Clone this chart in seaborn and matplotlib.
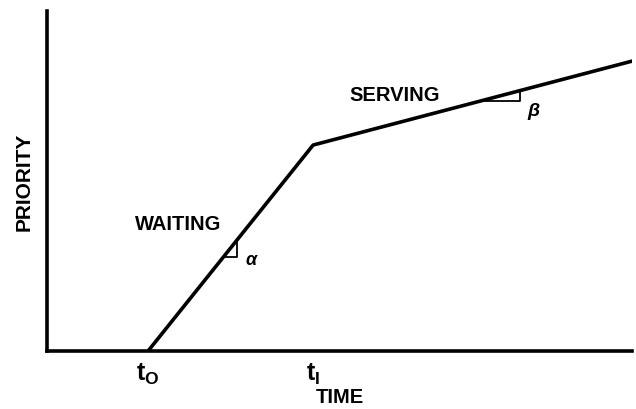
import numpy as np
import pandas as pd
import seaborn as sns
import matplotlib.pyplot as plt

# priority curve: waiting then serving
time = [1.01, 2.66, 5.85]
priority = [0.0, 2.06, 2.90]
tick_pos = [1.01, 2.66]
tick_labels = [r"$\mathbf{t_O}$", r"$\mathbf{t_I}$"]

sns.set_style("white")
plt.rcParams['font.family'] = ['Liberation Sans', 'DejaVu Sans']
plt.rcParams['mathtext.fontset'] = 'custom'
plt.rcParams['mathtext.bf'] = 'Liberation Sans:bold'
plt.rcParams['mathtext.it'] = 'Liberation Sans:italic:bold'
plt.rcParams['text.color'] = 'black'
plt.rcParams['axes.labelcolor'] = 'black'
plt.rcParams['xtick.color'] = 'black'

fig = plt.figure(figsize=(6.36, 4.10), dpi=100)
ax = fig.add_axes([0.074, 0.1415, 0.92, 0.829])

df = pd.DataFrame({'time': time, 'priority': priority})
sns.lineplot(data=df, x='time', y='priority', color='black', lw=2.6, ax=ax)

ax.set_xlim(0, 5.85)
ax.set_ylim(0, 3.40)
sns.despine(ax=ax)
for s in ['left', 'bottom']:
    ax.spines[s].set_linewidth(2.6)
    ax.spines[s].set_color('black')

ax.set_xticks(tick_pos, labels=tick_labels)
ax.tick_params(axis='x', length=0, labelsize=18, pad=7)
ax.set_yticks([])
ax.set_xlabel('TIME', fontsize=14.5, fontweight='bold', labelpad=1)
ax.set_ylabel('PRIORITY', fontsize=15, fontweight='bold', labelpad=10)

# slope triangles
def slope_tri(x0, dx, i):
    k = (priority[i + 1] - priority[i]) / (time[i + 1] - time[i])
    y0 = priority[i] + k * (x0 - time[i])
    ax.plot([x0, x0 + dx, x0 + dx], [y0, y0, y0 + k * dx], color='black', lw=1.3)
    return x0 + dx, y0

xa, ya = slope_tri(1.76, 0.14, 0)
ax.text(xa + 0.08, ya - 0.02, r"$\mathit{\alpha}$", fontsize=13, va='center')
xb, yb = slope_tri(4.33, 0.40, 1)
ax.text(xb + 0.07, yb - 0.09, r"$\mathit{\beta}$", fontsize=14, va='center')

ax.text(1.31, 1.28, 'WAITING', fontsize=14.5, fontweight='bold', ha='center', va='center')
ax.text(3.48, 2.57, 'SERVING', fontsize=14.5, fontweight='bold', ha='center', va='center')

fig.savefig('out.png', dpi=100)
